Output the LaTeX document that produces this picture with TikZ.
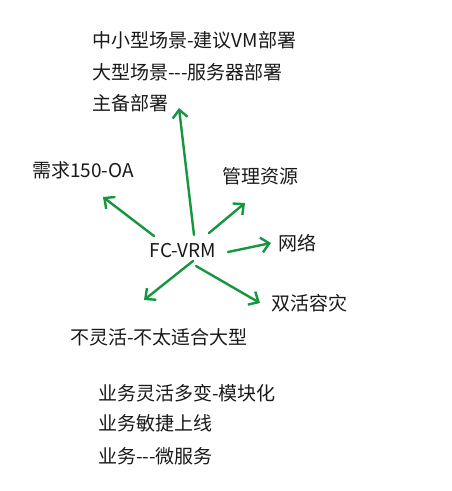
\documentclass[tikz,border=0pt]{standalone}
\usepackage{fontspec}
\setmainfont{Noto Sans CJK SC}
\usetikzlibrary{arrows.meta,positioning}
\definecolor{arrowgreen}{RGB}{22,150,62}
\tikzset{
    every node/.style={font=\fontsize{19}{23}\selectfont, text=black!90, inner sep=0pt},
    label node/.style={anchor=west},
    branch/.style={->, draw=arrowgreen, line width=2.4pt}
}

\begin{document}
\begin{tikzpicture}[
            x = 1pt, y = -1pt, % pixel-like coordinates, y going down
            > = {Straight Barb[length=8pt, width=15pt, line width=2.4pt]}, % open arrow head
            line cap = round
        ]

        \useasboundingbox (0,0) rectangle (451,491);

        % centre node
        \node (vrm) at (183,251) {FC-VRM};

        % deployment notes
        \node[label node] (small) at (92,40) {中小型场景-建议VM部署};
        \node[label node] (large) at (92,72) {大型场景-{}-{}-服务器部署};
        \node[label node] (backup) at (92,103) {主备部署};

        \node[label node] (need) at (32,170) {需求150-OA};
        \node[label node] (manage) at (222,176) {管理资源};
        \node[label node] (net) at (278,243) {网络};
        \node[label node] (dual) at (271,303) {双活容灾};
        \node[label node] (rigid) at (70,337) {不灵活-不太适合大型};

        % business notes
        \node[label node] (agile) at (98,393) {业务灵活多变-模块化};
        \node[label node] (online) at (98,423) {业务敏捷上线};
        \node[label node] (micro) at (98,456) {业务-{}-{}-微服务};

        % arrow ends
        \coordinate (s1) at (194,235);
        \coordinate (e1) at (179,108);
        \coordinate (s2) at (154,236);
        \coordinate (e2) at (103,197);
        \coordinate (s3) at (209,233);
        \coordinate (e3) at (245,203);
        \coordinate (s4) at (228,252);
        \coordinate (e4) at (271,243);
        \coordinate (s5) at (193,261);
        \coordinate (e5) at (144,300);
        \coordinate (s6) at (196,266);
        \coordinate (e6) at (260,303);

        \draw[branch] (s1) -- (e1);
        \draw[branch] (s2) -- (e2);
        \draw[branch] (s3) -- (e3);
        \draw[branch] (s4) -- (e4);
        \draw[branch] (s5) -- (e5);
        \draw[branch] (s6) -- (e6);

  \end{tikzpicture}
\end{document}
